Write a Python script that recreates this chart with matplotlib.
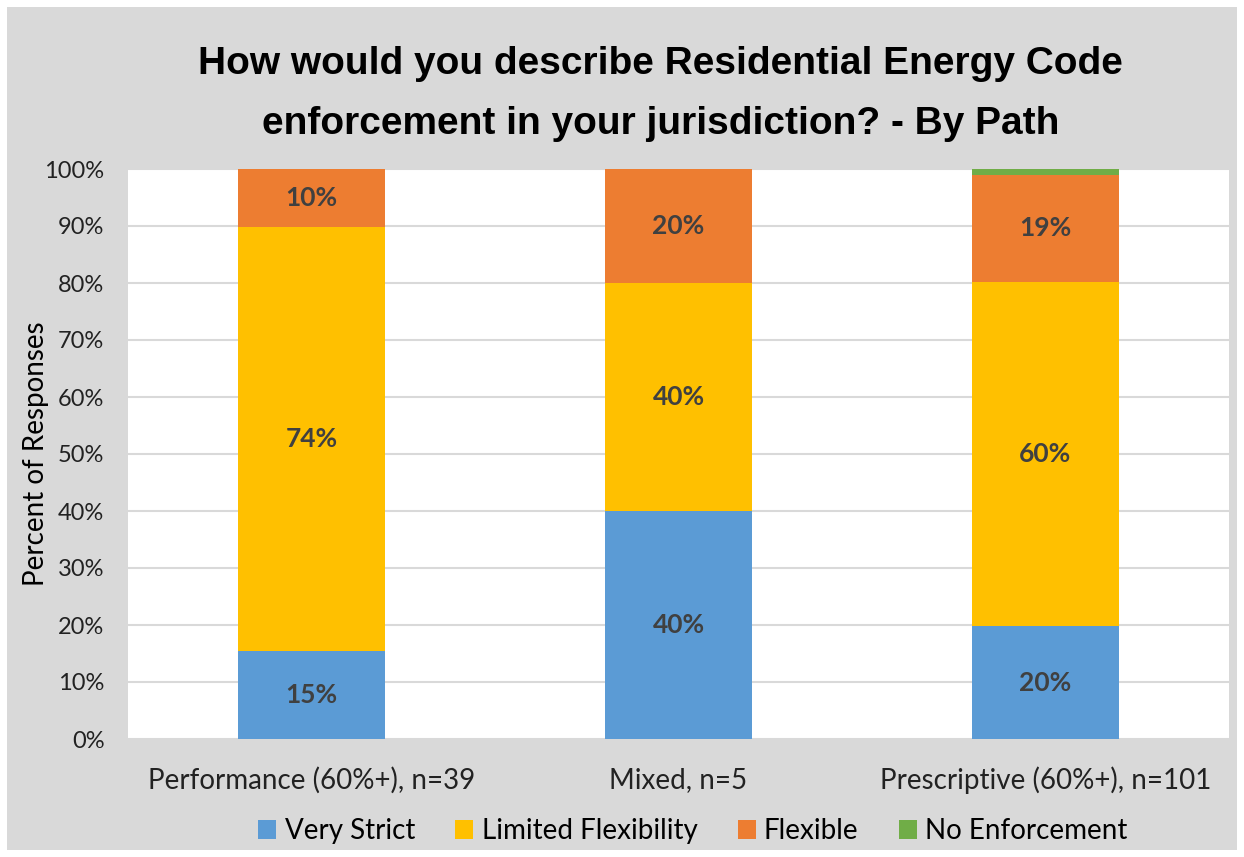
import numpy as np
import matplotlib.pyplot as plt
from matplotlib.patches import Rectangle

# survey counts by enforcement path
paths = ['Performance (60%+), n=39', 'Mixed, n=5', 'Prescriptive (60%+), n=101']
totals = np.array([39, 5, 101])
very_strict = np.array([6, 2, 20])
limited = np.array([29, 2, 61])
flexible = np.array([4, 1, 19])
no_enforcement = np.array([0, 0, 1])

series = [('Very Strict', very_strict, '#5B9BD5'),
          ('Limited Flexibility', limited, '#FFC000'),
          ('Flexible', flexible, '#ED7D31'),
          ('No Enforcement', no_enforcement, '#70AD47')]

body = ['Lato', 'DejaVu Sans']
head = ['Liberation Sans', 'DejaVu Sans']

fig = plt.figure(figsize=(12.44, 8.57), dpi=100, facecolor='white')
fig.patches.append(Rectangle((7 / 1244, 7 / 857), 1230 / 1244, 843 / 857,
                             transform=fig.transFigure, facecolor='#D9D9D9',
                             edgecolor='none', zorder=-5))

ax = fig.add_axes([128 / 1244, 1 - 739 / 857, 1101 / 1244, 570 / 857])
ax.set_facecolor('white')

x = np.arange(len(paths))
bottom = np.zeros(len(paths))
for name, counts, col in series:
    pct = counts / totals * 100
    ax.bar(x, pct, 0.4, bottom=bottom, color=col, label=name, zorder=3)
    for xi, b, p in zip(x, bottom, pct):
        if p >= 5:
            ax.text(xi, b + p / 2, '%d%%' % round(p), ha='center', va='center',
                    fontsize=19, fontweight='bold', color='#404040',
                    family=body, zorder=4)
    bottom += pct

ax.set_xlim(-0.5, 2.5)
ax.set_ylim(0, 100)
ax.set_yticks(np.arange(0, 101, 10))
ax.set_yticklabels(['%d%%' % v for v in range(0, 101, 10)])
ax.set_xticks(x)
ax.set_xticklabels(paths)
ax.tick_params(length=0, colors='#222222')
ax.tick_params(axis='x', labelsize=20, pad=20)
ax.tick_params(axis='y', labelsize=17, pad=17)
for lab in ax.get_xticklabels() + ax.get_yticklabels():
    lab.set_family(body)
ax.yaxis.grid(True, color='#D9D9D9', linewidth=1.5, zorder=0)
ax.set_axisbelow(True)
for s in ax.spines.values():
    s.set_visible(False)

ax.set_ylabel('Percent of Responses', fontsize=20, family=body)
ax.yaxis.set_label_coords(-0.072, 0.5)

fig.text(0.531, 1 - 94 / 857,
         'How would you describe Residential Energy Code\nenforcement in your jurisdiction? - By Path',
         ha='center', va='center', fontsize=28, fontweight='bold',
         family=head, linespacing=1.85)

fig.legend(loc='center', bbox_to_anchor=(0.557, 1 - 831 / 857), ncol=4,
           frameon=False, handlelength=0.65, handleheight=0.65, handletextpad=0.3,
           columnspacing=1.45, prop={'family': body, 'size': 20})

fig.savefig('out.png', dpi=100, facecolor=fig.get_facecolor())
